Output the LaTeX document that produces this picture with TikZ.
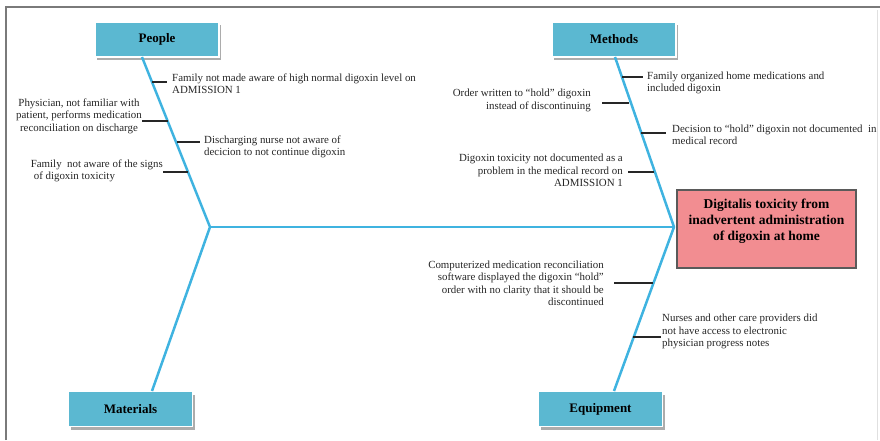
\documentclass[tikz,border=0pt]{standalone}
\usepackage{fontspec}
\setmainfont{Liberation Serif}
\usetikzlibrary{calc,shadows}
\definecolor{boxblue}{HTML}{5BB8D1}
\definecolor{bonecol}{HTML}{3FB3E0}
\definecolor{effpink}{HTML}{F28D91}
\definecolor{effborder}{HTML}{5A5A5A}
\definecolor{framegray}{HTML}{7A7A7A}
\tikzset{
  catbox/.style={rectangle, fill=boxblue, draw=white, line width=1.2pt,
    minimum width=124pt, minimum height=35pt, inner sep=0pt,
    font=\fontsize{13}{15}\selectfont\bfseries,
    drop shadow={shadow xshift=2pt, shadow yshift=-3pt, fill=gray!65, opacity=1}},
  bone/.style={draw=bonecol, line width=2.5pt, line join=round},
  tick/.style={draw=black!85, line width=1.3pt},
  lab/.style={inner ysep=0pt, font=\fontsize{10.9}{12.5}\selectfont, text=black!85},
  effbox/.style={rectangle, fill=effpink, draw=effborder, line width=1.2pt,
    minimum width=179pt, minimum height=78pt, inner sep=0pt},
  efftext/.style={align=center, inner sep=0pt, font=\fontsize{13.5}{16}\selectfont\bfseries}
}
\begin{document}
\begin{tikzpicture}[x=1pt,y=-1pt]
\useasboundingbox (0,0) rectangle (880,440);
% frame
\draw[framegray, line width=1.6pt] (6,440) -- (6,7) -- (880,7);
\draw[black!12, line width=0.8pt] (877,10) -- (877,440);

% category boxes
\node[catbox] (people) at (157,39.5) {People};
\node[catbox] (methods) at (614,39.5) {Methods};
\node[catbox] (materials) at (130.5,409) {Materials};
\node[catbox] (equipment) at (600.5,409) {Equipment};

% effect
\node[effbox] (effect) at (766.5,229) {};
\node[efftext] (efftxt) at ($(effect.center)+(0,-8)$) {Digitalis toxicity from\\inadvertent administration\\of digoxin at home};

% bone coordinates
\coordinate (ptop) at (142,57);
\coordinate (mtop) at (615,57);
\coordinate (jn) at (210,227);
\coordinate (head) at (674,227);
\coordinate (mabot) at (152,391);
\coordinate (eqbot) at (614,391);

\draw[bone] (ptop) -- (jn) -- (mabot);
\draw[bone] (jn) -- (head);
\draw[bone] (mtop) -- (head) -- (eqbot);

% People causes
\node[lab, anchor=west, align=left, inner xsep=5pt] (t1) at (167,83.5)
  {Family not made aware of high normal digoxin level on\\ADMISSION 1};
\node[lab, anchor=east, align=center, inner xsep=0pt] (t2) at (142,116.3)
  {Physician, not familiar with\\patient, performs medication\\reconciliation on discharge};
\node[lab, anchor=west, align=left, inner xsep=4pt] (t3) at (200,147)
  {Discharging nurse not aware of\\decicion to not continue digoxin};
\node[lab, anchor=east, align=left, inner xsep=0pt] (t4) at (163,171)
  {Family~ not aware of the signs\\\hspace{3pt}of digoxin toxicity};
\coordinate (b1) at (152,82);
\coordinate (b2) at (167.5,121);
\coordinate (b3) at (177,142);
\coordinate (b4) at (187.5,172);
\draw[tick] (b1) -- (b1 -| t1.west);
\draw[tick] (b2) -- (b2 -| t2.east);
\draw[tick] (b3) -- (b3 -| t3.west);
\draw[tick] (b4) -- (b4 -| t4.east);

% Methods causes
\node[lab, anchor=west, align=left, inner xsep=4pt] (m1) at (643,83)
  {Family organized home medications and\\included digoxin};
\node[lab, anchor=east, align=right, inner xsep=11pt] (m2) at (602,100.5)
  {Order written to “hold” digoxin\\instead of discontinuing};
\node[lab, anchor=west, align=left, inner xsep=6pt] (m3) at (666,135)
  {Decision to “hold” digoxin not documented~ in\\medical record};
\node[lab, anchor=east, align=right, inner xsep=5pt] (m4) at (628,170.7)
  {Digoxin toxicity not documented as a\\problem in the medical record on\\ADMISSION 1};
\coordinate (bm1) at (622,77);
\coordinate (bm2) at (629,103);
\coordinate (bm3) at (641,133);
\coordinate (bm4) at (653.5,172);
\draw[tick] (bm1) -- (bm1 -| m1.west);
\draw[tick] (bm2) -- (bm2 -| m2.east);
\draw[tick] (bm3) -- (bm3 -| m3.west);
\draw[tick] (bm4) -- (bm4 -| m4.east);

% Equipment causes
\node[lab, anchor=east, align=right, inner xsep=10pt] (e1) at (614,283.5)
  {Computerized medication reconciliation\\software displayed the digoxin “hold”\\order with no clarity that it should be\\discontinued};
\node[lab, anchor=west, align=left, inner xsep=1pt] (e2) at (661,331.7)
  {Nurses and other care providers did\\not have access to electronic\\physician progress notes};
\coordinate (be1) at (652.5,283);
\coordinate (be2) at (633,337);
\draw[tick] (be1) -- (be1 -| e1.east);
\draw[tick] (be2) -- (be2 -| e2.west);
\end{tikzpicture}
\end{document}
